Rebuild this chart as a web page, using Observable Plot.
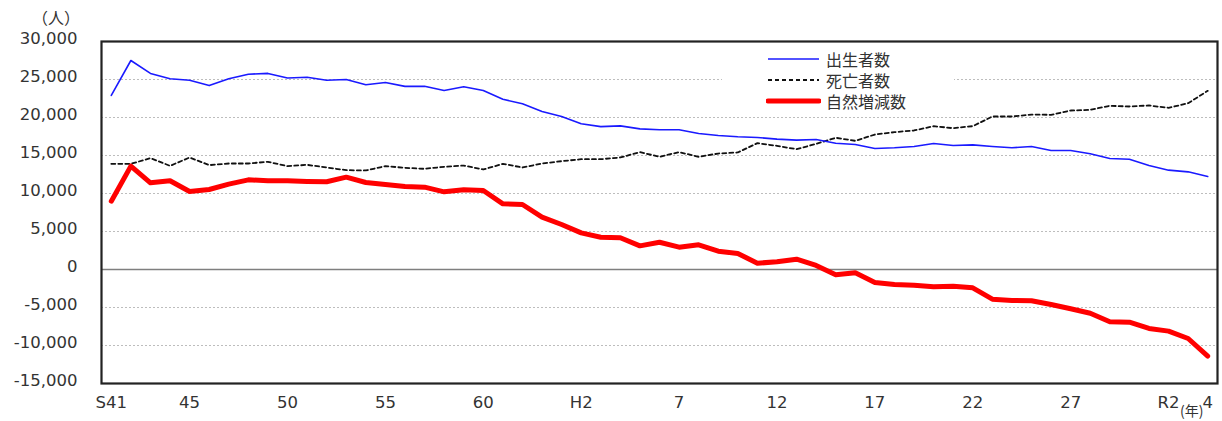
<!DOCTYPE html>
<html>
<head>
<meta charset="utf-8">
<script src="https://cdn.jsdelivr.net/npm/d3@7"></script>
<script src="https://cdn.jsdelivr.net/npm/@observablehq/plot@0.6"></script>
<style>
  body { margin: 0; background: #fff; }
  #wrap { position: relative; width: 1222px; height: 421px; overflow: hidden; font-family: "DejaVu Sans", sans-serif; color: #333; }
  #wrap svg text { font-family: "DejaVu Sans", sans-serif !important; font-size: 16.5px !important; }
  .unit { position: absolute; font-family: "Noto Sans CJK JP", sans-serif; line-height: 1; color: #333; white-space: nowrap; }
  #legend { position: absolute; left: 722px; top: 46px; width: 232px; height: 66px; background: #fff; }
  #legend .item { position: absolute; left: 0; height: 20px; line-height: 20px; display: flex; align-items: center; }
  #legend svg { margin-left: 44px; display: block; }
  #legend span { margin-left: 5px; font-family: "Noto Sans CJK JP", sans-serif; font-size: 16px; line-height: 20px; color: #333; white-space: nowrap; }
</style>
</head>
<body>
<div id="wrap"></div>
<script>
// ---- data ----
const years = d3.range(1966, 2023);
const births = [22900, 27500, 25800, 25100, 24900, 24200, 25100, 25700, 25800, 25200,
  25300, 24900, 25000, 24300, 24600, 24100, 24100, 23550, 24040, 23550,
  22400, 21800, 20800, 20130, 19170, 18800, 18900, 18500, 18380, 18380,
  17900, 17630, 17460, 17370, 17150, 17020, 17100, 16620, 16450, 15920,
  16010, 16180, 16580, 16320, 16400, 16180, 16010, 16180, 15660, 15660,
  15220, 14600, 14510, 13680, 13070, 12850, 12240];
const deaths = [13900, 13900, 14650, 13640, 14740, 13730, 13950, 13950, 14170, 13600,
  13770, 13420, 13070, 13030, 13600, 13380, 13250, 13510, 13680, 13160,
  13900, 13420, 13950, 14250, 14510, 14510, 14740, 15440, 14830, 15440,
  14830, 15260, 15400, 16620, 16270, 15830, 16530, 17330, 16930, 17760,
  18070, 18290, 18860, 18590, 18860, 20130, 20130, 20390, 20350, 20920,
  21010, 21540, 21450, 21580, 21270, 21880, 23510];
const natural = [8990, 13600, 11400, 11670, 10260, 10530, 11230, 11800, 11670, 11670,
  11580, 11540, 12150, 11450, 11180, 10920, 10830, 10220, 10490, 10400,
  8640, 8550, 6890, 5920, 4820, 4250, 4170, 3110, 3590, 2940,
  3250, 2410, 2110, 830, 1010, 1360, 530, -700, -430, -1710,
  -1970, -2060, -2280, -2190, -2410, -3900, -4080, -4120, -4610, -5170,
  -5750, -6880, -6930, -7760, -8110, -9080, -11400];
const xTickYears = [1966, 1970, 1975, 1980, 1985, 1990, 1995, 2000, 2005, 2010, 2015, 2020, 2022];
const xTickLabels = ["S41", "45", "50", "55", "60", "H2", "7", "12", "17", "22", "27", "R2", "4"];
const yTicks = [-15000, -10000, -5000, 0, 5000, 10000, 15000, 20000, 25000, 30000];
const seriesNames = ["出生者数", "死亡者数", "自然増減数"];

const rows = (vals) => years.map((y, i) => ({year: y, value: vals[i]}));

const chart = Plot.plot({
  width: 1222,
  height: 421,
  marginLeft: 101,
  marginRight: 5,
  marginTop: 41,
  marginBottom: 38,
  style: {fontSize: "16.5px", color: "#333", background: "transparent"},
  x: {domain: [1965.5, 2022.5]},
  y: {domain: [-15000, 30000]},
  marks: [
    Plot.ruleY(yTicks.filter(d => d !== 0), {stroke: "#bdbdbd", strokeWidth: 1, strokeDasharray: "2,2"}),
    Plot.ruleY([0], {stroke: "#7f7f7f", strokeWidth: 1.5}),
    Plot.lineY(rows(deaths), {x: "year", y: "value", stroke: "#111", strokeWidth: 1.8, strokeDasharray: "4,3"}),
    Plot.lineY(rows(births), {x: "year", y: "value", stroke: "#1a1aff", strokeWidth: 1.6}),
    Plot.lineY(rows(natural), {x: "year", y: "value", stroke: "#ff0000", strokeWidth: 5, strokeLinejoin: "round"}),
    Plot.frame({stroke: "#222", strokeWidth: 2.2}),
    Plot.axisY({ticks: yTicks, tickSize: 0, tickPadding: 24, dy: -3, label: null,
      tickFormat: d => (d < 0 ? "-" : "") + Math.abs(d).toLocaleString("en-US")}),
    Plot.axisX({ticks: xTickYears, tickSize: 0, tickPadding: 13, label: null,
      tickFormat: d => xTickLabels[xTickYears.indexOf(d)]})
  ]
});

const wrap = document.getElementById("wrap");
wrap.appendChild(chart);

// unit labels
const u1 = document.createElement("div");
u1.className = "unit"; u1.textContent = "（人）";
u1.style.left = "32px"; u1.style.top = "9px"; u1.style.fontSize = "16px";
wrap.appendChild(u1);
const u2 = document.createElement("div");
u2.className = "unit"; u2.textContent = "(年)";
u2.style.left = "1180px"; u2.style.top = "403px"; u2.style.fontSize = "14px";
wrap.appendChild(u2);

// legend
const legend = document.createElement("div");
legend.id = "legend";
const styles = [
  {stroke: "#1a1aff", w: 1.6, dash: null, cap: "butt"},
  {stroke: "#111", w: 1.8, dash: "4,3", cap: "butt"},
  {stroke: "#ff0000", w: 5, dash: null, cap: "round"}
];
seriesNames.forEach((name, i) => {
  const item = document.createElement("div");
  item.className = "item";
  item.style.top = (3 + i * 21) + "px";
  const s = styles[i];
  item.innerHTML = `<svg width="55" height="10"><line x1="2" x2="53" y1="5" y2="5" stroke="${s.stroke}" stroke-width="${s.w}" ${s.dash ? `stroke-dasharray="${s.dash}"` : ""} stroke-linecap="${s.cap}"/></svg><span>${name}</span>`;
  legend.appendChild(item);
});
wrap.appendChild(legend);
</script>
</body>
</html>
